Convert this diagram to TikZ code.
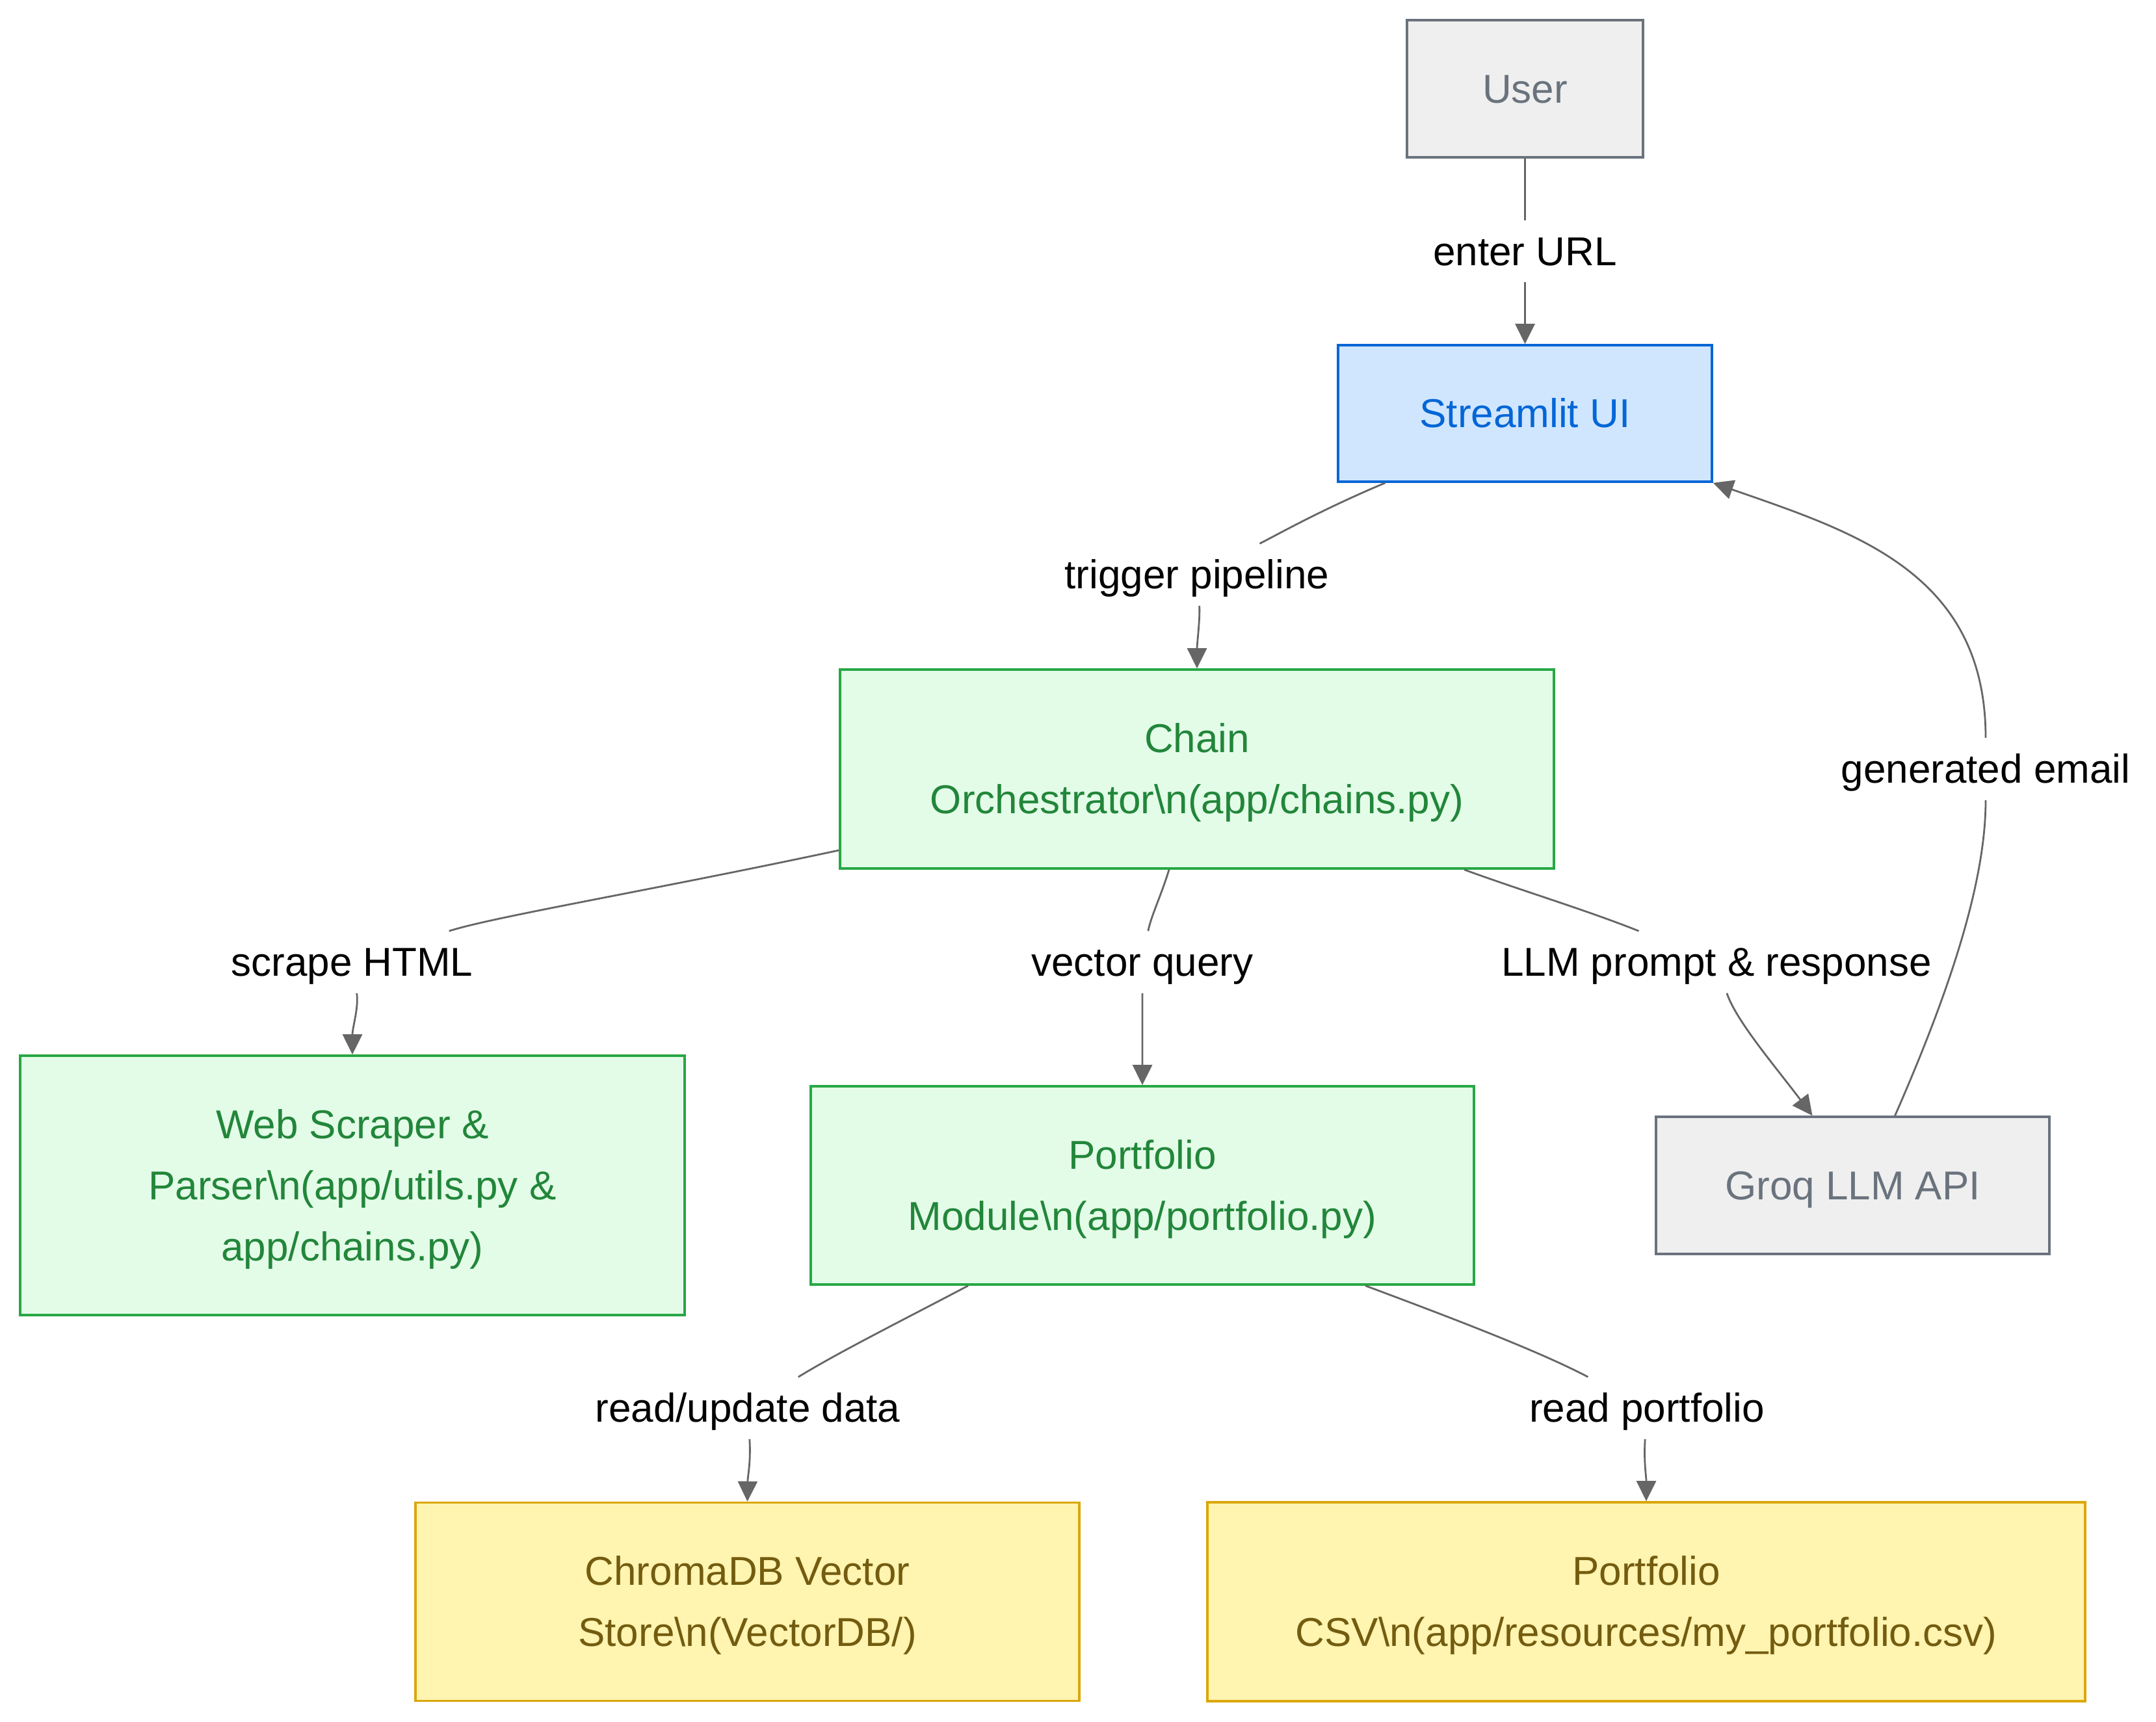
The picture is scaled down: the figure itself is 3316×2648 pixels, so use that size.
\documentclass[tikz,border=0pt]{standalone}
\usepackage{fontspec}
\setmainfont{Liberation Sans}
\usetikzlibrary{arrows.meta,calc}
\definecolor{grayfill}{HTML}{EFEFEF}
\definecolor{graystroke}{HTML}{6A737D}
\definecolor{bluefill}{HTML}{D0E6FF}
\definecolor{bluestroke}{HTML}{0366D6}
\definecolor{greenfill}{HTML}{E3FCE8}
\definecolor{greenstroke}{HTML}{28A745}
\definecolor{greentext}{HTML}{22863A}
\definecolor{yellowfill}{HTML}{FFF4B0}
\definecolor{yellowstroke}{HTML}{DBA70A}
\definecolor{yellowtext}{HTML}{735C0F}
\definecolor{edgecol}{HTML}{666666}
\newcommand{\cssstrut}{\rule[-6.3pt]{0pt}{23.5pt}}
\newcommand{\bt}[1]{\setbox\strutbox\hbox{\cssstrut}\begin{tabular}{@{}c@{}}#1\end{tabular}}
\begin{document}
\begin{tikzpicture}[x=0.25pt,y=-0.25pt,
  box/.style={rectangle, line width=0.9pt, inner sep=0pt,
    font=\fontsize{15.5pt}{23.5pt}\selectfont},
  graynode/.style={box, fill=grayfill, draw=graystroke, text=graystroke},
  bluenode/.style={box, fill=bluefill, draw=bluestroke, text=bluestroke},
  greennode/.style={box, fill=greenfill, draw=greenstroke, text=greentext},
  yellownode/.style={box, fill=yellowfill, draw=yellowstroke, text=yellowtext},
  lbl/.style={inner sep=0pt, inner xsep=2pt, minimum height=23.5pt, text=black,
    font=\fontsize{15.5pt}{23.5pt}\selectfont,
    execute at begin node=\cssstrut},
  edge/.style={draw=edgecol, line width=0.7pt, -{Triangle[length=7.75pt,width=7.5pt]}}
]
\useasboundingbox (0,0) rectangle (3316,2648);

% nodes (sizes in px/4 = pt)
\node[graynode, minimum width=90.75pt, minimum height=52.75pt] (user) at (2345.5,136.5) {\bt{User}};
\node[bluenode, minimum width=143.75pt, minimum height=52.5pt] (ui) at (2345.5,636) {\bt{Streamlit UI}};
\node[greennode, minimum width=274.5pt, minimum height=76.5pt] (chain) at (1841,1183)
  {\bt{Chain\\Orchestrator\textbackslash n(app/chains.py)}};
\node[greennode, minimum width=255.5pt, minimum height=99.75pt] (web) at (542,1823.5)
  {\bt{Web Scraper \&\\Parser\textbackslash n(app/utils.py \&\\app/chains.py)}};
\node[greennode, minimum width=255pt, minimum height=76.25pt] (pm) at (1757,1823.5)
  {\bt{Portfolio\\Module\textbackslash n(app/portfolio.py)}};
\node[graynode, minimum width=151.25pt, minimum height=52.75pt] (groq) at (2849.5,1823.5) {\bt{Groq LLM API}};
\node[yellownode, minimum width=255.25pt, minimum height=76.25pt] (chroma) at (1149.5,2464)
  {\bt{ChromaDB Vector\\Store\textbackslash n(VectorDB/)}};
\node[yellownode, minimum width=337.5pt, minimum height=76.5pt] (csv) at (2532,2464)
  {\bt{Portfolio\\CSV\textbackslash n(app/resources/my\_portfolio.csv)}};

% edge labels
\node[lbl] (l1) at (2345.5,386.5) {enter URL};
\node[lbl] (l2) at (1841,884) {trigger pipeline};
\node[lbl] (l3) at (3054,1183) {generated email};
\node[lbl] (l4) at (541.5,1480) {scrape HTML};
\node[lbl] (l5) at (1757,1480) {vector query};
\node[lbl] (l6) at (2640,1480) {LLM prompt \& response};
\node[lbl] (l7) at (1150,2166) {read/update data};
\node[lbl] (l8) at (2533,2166) {read portfolio};

% edges
\draw[edge] (user) -- (l1) -- (ui);
\draw[edge] ($(ui.south)+(-215,0)$) .. controls (2030,785) and (1960,825) .. (l2)
  .. controls (1846,950) and (1841,990) .. (chain.north);
\draw[edge] ($(groq.north)+(65,0)$) .. controls (3005,1510) and (3054,1350) .. (l3)
  .. controls (3054,880) and (2850,818) .. (ui.south east);
\draw[edge] ($(chain.west)+(0,125)$) .. controls (1000,1370) and (760,1410) .. (l4)
  .. controls (552,1550) and (542,1580) .. (web.north);
\draw[edge] ($(chain.south)+(-43,0)$) .. controls (1785,1380) and (1770,1410) .. (l5)
  -- (pm.north);
\draw[edge] ($(chain.south)+(411,0)$) .. controls (2340,1370) and (2440,1400) .. (l6)
  .. controls (2670,1570) and (2730,1640) .. ($(groq.north)+(-62,0)$);
\draw[edge] ($(pm.south)+(-268,0)$) .. controls (1390,2030) and (1290,2080) .. (l7)
  .. controls (1155,2250) and (1150,2270) .. (chroma.north);
\draw[edge] ($(pm.south)+(343,0)$) .. controls (2240,2030) and (2370,2080) .. (l8)
  .. controls (2528,2250) and (2532,2270) .. (csv.north);
\end{tikzpicture}
\end{document}
